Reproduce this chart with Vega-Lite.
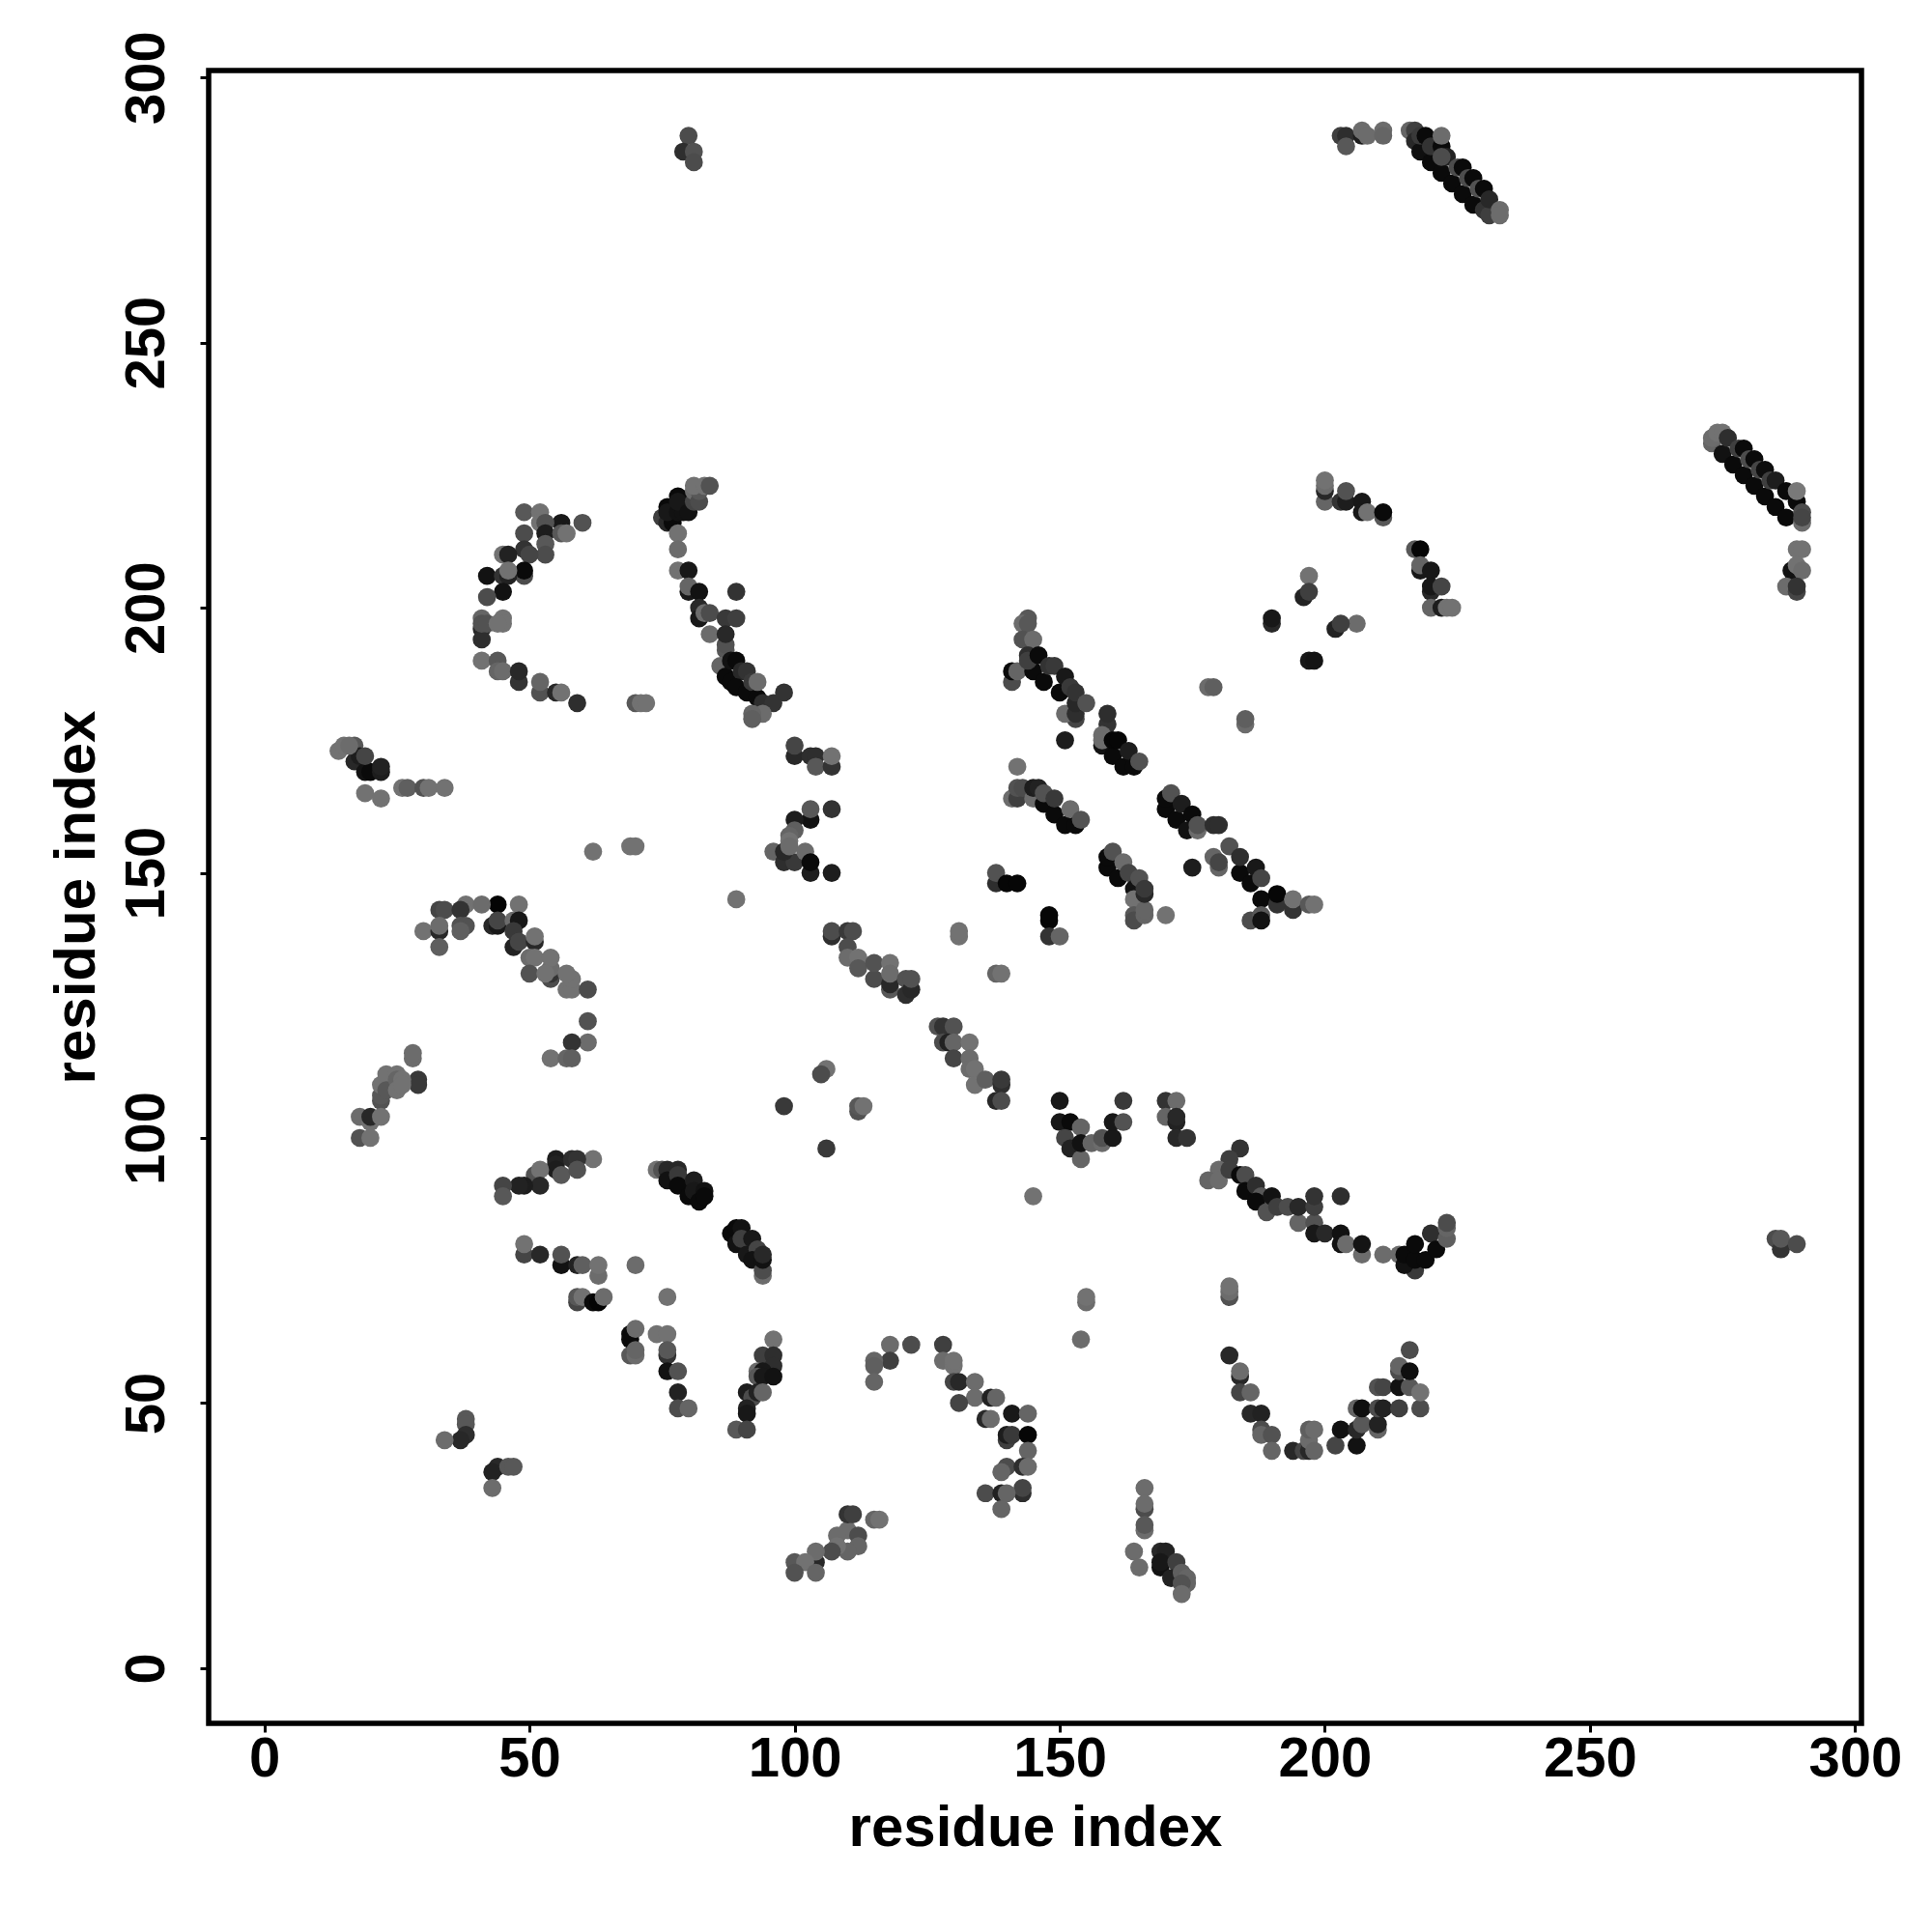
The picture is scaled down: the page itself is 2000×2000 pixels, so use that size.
{"$schema":"https://vega.github.io/schema/vega-lite/v6.json","width":1711,"height":1711,"autosize":{"type":"none"},"padding":{"left":216,"top":73,"right":73,"bottom":216},"background":"white","view":{"stroke":"#000000","strokeWidth":5.5},"config":{"font":"Liberation Sans"},
"data":{"values":[
{"x":49,"y":218,"s":0.3},{"x":52,"y":218,"s":0.1},{"x":52,"y":216,"s":0.1},{"x":60,"y":216,"s":0.35},{"x":56,"y":216,"s":0.85},{"x":53,"y":216,"s":0.35},{"x":53,"y":214,"s":0.8},{"x":56,"y":214,"s":0.3},{"x":57,"y":214,"s":0.1},{"x":49,"y":214,"s":0.4},{"x":53,"y":212,"s":0.3},{"x":53,"y":210,"s":0.4},{"x":49,"y":211,"s":0.6},{"x":50,"y":210,"s":0.45},{"x":45,"y":210,"s":0.1},{"x":46,"y":210,"s":0.75},{"x":42,"y":206,"s":0.9},{"x":49,"y":206,"s":0.4},{"x":49,"y":207,"s":0.95},{"x":45,"y":206,"s":0.6},{"x":46,"y":206,"s":0.75},{"x":46,"y":207,"s":0.1},{"x":45,"y":203,"s":0.9},{"x":42,"y":202,"s":0.4},{"x":41,"y":198,"s":0.2},{"x":45,"y":198,"s":0.1},{"x":41,"y":196,"s":0.7},{"x":41,"y":194,"s":0.65},{"x":41,"y":197,"s":0.35},{"x":42,"y":197,"s":0.35},{"x":45,"y":197,"s":0.1},{"x":44,"y":197,"s":0.1},
{"x":41,"y":190,"s":0.1},{"x":44,"y":190,"s":0.3},{"x":44,"y":188,"s":0.2},{"x":45,"y":188,"s":0.15},{"x":48,"y":186,"s":0.6},{"x":48,"y":188,"s":0.7},{"x":52,"y":184,"s":0.35},{"x":52,"y":186,"s":0.2},{"x":55,"y":184,"s":0.7},{"x":56,"y":184,"s":0.1},{"x":59,"y":182,"s":0.65},{"x":70,"y":182,"s":0.3},{"x":71,"y":182,"s":0.1},{"x":72,"y":182,"s":0.1},
{"x":75,"y":217,"s":0.5},{"x":76,"y":216,"s":0.7},{"x":77,"y":216,"s":0.95},{"x":76,"y":219,"s":0.95},{"x":76,"y":218,"s":0.85},{"x":78,"y":218,"s":0.9},{"x":79,"y":218,"s":0.9},{"x":78,"y":221,"s":0.95},{"x":78,"y":220,"s":0.85},{"x":80,"y":218,"s":0.9},{"x":81,"y":220,"s":0.45},{"x":81,"y":222,"s":0.15},{"x":82,"y":220,"s":0.4},{"x":82,"y":222,"s":0.3},{"x":81,"y":223,"s":0.1},{"x":83,"y":223,"s":0.1},{"x":84,"y":223,"s":0.35},
{"x":78,"y":214,"s":0.1},{"x":78,"y":211,"s":0.15},{"x":78,"y":207,"s":0.1},{"x":80,"y":207,"s":0.85},{"x":80,"y":203,"s":0.85},{"x":80,"y":204,"s":0.2},{"x":82,"y":203,"s":0.9},{"x":89,"y":203,"s":0.6},{"x":82,"y":200,"s":0.7},{"x":82,"y":198,"s":0.85},{"x":83,"y":199,"s":0.15},{"x":84,"y":199,"s":0.4},{"x":87,"y":198,"s":0.55},{"x":89,"y":198,"s":0.5},{"x":84,"y":195,"s":0.15},{"x":87,"y":192,"s":0.3},{"x":87,"y":193,"s":0.35},{"x":87,"y":195,"s":0.7},{"x":86,"y":189,"s":0.2},{"x":87,"y":187,"s":0.95},{"x":88,"y":190,"s":0.9},{"x":89,"y":190,"s":0.95},{"x":88,"y":186,"s":0.95},{"x":90,"y":188,"s":0.7},{"x":89,"y":185,"s":0.95},{"x":91,"y":184,"s":0.95},{"x":91,"y":188,"s":0.6},{"x":92,"y":186,"s":0.55},{"x":93,"y":183,"s":0.95},{"x":93,"y":186,"s":0.15},{"x":94,"y":182,"s":0.65},{"x":96,"y":182,"s":0.6},{"x":98,"y":184,"s":0.6},{"x":94,"y":180,"s":0.15},{"x":92,"y":180,"s":0.2},{"x":92,"y":179,"s":0.25},
{"x":100,"y":172,"s":0.7},{"x":100,"y":174,"s":0.45},{"x":103,"y":172,"s":0.65},{"x":104,"y":172,"s":0.65},{"x":104,"y":170,"s":0.3},{"x":107,"y":170,"s":0.6},{"x":107,"y":172,"s":0.1},{"x":107,"y":162,"s":0.6},{"x":103,"y":160,"s":0.9},{"x":103,"y":162,"s":0.3},{"x":100,"y":160,"s":0.8},{"x":100,"y":158,"s":0.25},{"x":99,"y":157,"s":0.2},{"x":99,"y":156,"s":0.1},{"x":96,"y":154,"s":0.2},{"x":98,"y":152,"s":0.65},{"x":100,"y":152,"s":0.55},{"x":98,"y":154,"s":0.7},{"x":99,"y":155,"s":0.15},{"x":102,"y":154,"s":0.15},{"x":103,"y":150,"s":0.8},{"x":103,"y":152,"s":0.95},{"x":107,"y":150,"s":0.8},{"x":89,"y":145,"s":0.1},
{"x":14,"y":173,"s":0.1},{"x":15,"y":174,"s":0.1},{"x":17,"y":171,"s":0.7},{"x":17,"y":174,"s":0.3},{"x":18,"y":172,"s":0.8},{"x":16,"y":174,"s":0.15},{"x":19,"y":169,"s":0.9},{"x":20,"y":169,"s":0.95},{"x":19,"y":172,"s":0.45},{"x":22,"y":169,"s":0.8},{"x":22,"y":170,"s":0.75},{"x":19,"y":165,"s":0.1},{"x":22,"y":164,"s":0.1},{"x":26,"y":166,"s":0.1},{"x":27,"y":166,"s":0.25},{"x":30,"y":166,"s":0.35},{"x":31,"y":166,"s":0.1},{"x":34,"y":166,"s":0.1},{"x":62,"y":154,"s":0.1},{"x":69,"y":155,"s":0.1},{"x":70,"y":155,"s":0.1},
{"x":44,"y":144,"s":0.98},{"x":38,"y":144,"s":0.1},{"x":41,"y":144,"s":0.15},{"x":48,"y":144,"s":0.1},{"x":33,"y":143,"s":0.45},{"x":34,"y":143,"s":0.4},{"x":37,"y":143,"s":0.6},{"x":30,"y":139,"s":0.1},{"x":33,"y":139,"s":0.7},{"x":33,"y":140,"s":0.15},{"x":33,"y":136,"s":0.25},{"x":37,"y":140,"s":0.35},{"x":38,"y":140,"s":0.35},{"x":37,"y":139,"s":0.25},{"x":43,"y":140,"s":0.7},{"x":44,"y":140,"s":0.85},{"x":44,"y":141,"s":0.45},{"x":47,"y":141,"s":0.15},{"x":48,"y":141,"s":0.85},{"x":47,"y":139,"s":0.55},{"x":47,"y":136,"s":0.75},{"x":48,"y":137,"s":0.45},{"x":51,"y":137,"s":0.7},{"x":51,"y":138,"s":0.1},{"x":50,"y":134,"s":0.15},{"x":51,"y":134,"s":0.1},{"x":50,"y":131,"s":0.35},{"x":54,"y":130,"s":0.4},{"x":54,"y":131,"s":0.6},{"x":54,"y":132,"s":0.15},{"x":54,"y":134,"s":0.1},{"x":53,"y":131,"s":0.1},{"x":57,"y":128,"s":0.1},{"x":58,"y":128,"s":0.1},{"x":58,"y":130,"s":0.1},{"x":57,"y":131,"s":0.1},{"x":61,"y":128,"s":0.4},{"x":61,"y":122,"s":0.35},{"x":61,"y":118,"s":0.15},{"x":58,"y":118,"s":0.6},{"x":54,"y":115,"s":0.1},{"x":57,"y":115,"s":0.2},{"x":58,"y":115,"s":0.25},
{"x":28,"y":115,"s":0.15},{"x":28,"y":116,"s":0.15},{"x":29,"y":111,"s":0.55},{"x":29,"y":110,"s":0.55},{"x":22,"y":107,"s":0.35},{"x":22,"y":108,"s":0.3},{"x":22,"y":110,"s":0.1},{"x":23,"y":112,"s":0.1},{"x":23,"y":109,"s":0.3},{"x":25,"y":112,"s":0.1},{"x":25,"y":111,"s":0.2},{"x":25,"y":109,"s":0.1},{"x":26,"y":111,"s":0.1},{"x":26,"y":110,"s":0.1},{"x":18,"y":104,"s":0.15},{"x":20,"y":103,"s":0.1},{"x":20,"y":104,"s":0.7},{"x":22,"y":104,"s":0.1},{"x":18,"y":100,"s":0.35},{"x":20,"y":100,"s":0.1},
{"x":62,"y":96,"s":0.1},{"x":55,"y":96,"s":0.8},{"x":55,"y":95,"s":0.75},{"x":58,"y":96,"s":0.65},{"x":59,"y":96,"s":0.6},{"x":55,"y":94,"s":0.8},{"x":56,"y":93,"s":0.3},{"x":59,"y":94,"s":0.35},{"x":51,"y":93,"s":0.35},{"x":52,"y":94,"s":0.1},{"x":52,"y":91,"s":0.7},{"x":49,"y":91,"s":0.8},{"x":48,"y":91,"s":0.75},{"x":45,"y":91,"s":0.45},{"x":45,"y":89,"s":0.3},
{"x":74,"y":94,"s":0.1},{"x":75,"y":94,"s":0.35},{"x":76,"y":94,"s":0.7},{"x":78,"y":94,"s":0.7},{"x":76,"y":92,"s":0.9},{"x":78,"y":93,"s":0.55},{"x":78,"y":91,"s":0.95},{"x":81,"y":92,"s":0.8},{"x":80,"y":89,"s":0.95},{"x":81,"y":90,"s":0.85},{"x":83,"y":90,"s":0.9},{"x":82,"y":88,"s":0.95},{"x":83,"y":89,"s":0.95},
{"x":88,"y":82,"s":0.95},{"x":89,"y":83,"s":0.95},{"x":90,"y":83,"s":0.9},{"x":89,"y":80,"s":0.9},{"x":90,"y":81,"s":0.5},{"x":92,"y":81,"s":0.85},{"x":91,"y":78,"s":0.85},{"x":93,"y":79,"s":0.45},{"x":92,"y":77,"s":0.9},{"x":94,"y":74,"s":0.15},{"x":94,"y":75,"s":0.4},{"x":94,"y":77,"s":0.9},{"x":94,"y":78,"s":0.7},
{"x":49,"y":78,"s":0.45},{"x":49,"y":80,"s":0.1},{"x":52,"y":78,"s":0.7},{"x":56,"y":76,"s":0.9},{"x":56,"y":78,"s":0.35},{"x":59,"y":76,"s":0.75},{"x":60,"y":76,"s":0.25},{"x":63,"y":74,"s":0.15},{"x":63,"y":76,"s":0.1},{"x":70,"y":76,"s":0.15},{"x":76,"y":70,"s":0.1},{"x":59,"y":69,"s":0.45},{"x":59,"y":70,"s":0.3},{"x":60,"y":70,"s":0.1},{"x":62,"y":69,"s":0.95},{"x":63,"y":69,"s":0.98},{"x":64,"y":70,"s":0.15},
{"x":69,"y":63,"s":0.95},{"x":69,"y":62,"s":0.95},{"x":70,"y":64,"s":0.15},{"x":69,"y":59,"s":0.3},{"x":70,"y":59,"s":0.15},{"x":70,"y":60,"s":0.2},{"x":74,"y":63,"s":0.1},{"x":76,"y":63,"s":0.1},{"x":76,"y":59,"s":0.6},{"x":76,"y":60,"s":0.3},{"x":76,"y":56,"s":0.9},{"x":78,"y":56,"s":0.35},{"x":78,"y":52,"s":0.75},{"x":78,"y":49,"s":0.4},{"x":80,"y":49,"s":0.2},
{"x":96,"y":62,"s":0.1},{"x":94,"y":59,"s":0.5},{"x":96,"y":59,"s":0.65},{"x":96,"y":57,"s":0.65},{"x":93,"y":56,"s":0.15},{"x":94,"y":56,"s":0.85},{"x":93,"y":55,"s":0.3},{"x":94,"y":55,"s":0.85},{"x":96,"y":55,"s":0.9},{"x":91,"y":52,"s":0.8},{"x":92,"y":51,"s":0.4},{"x":93,"y":52,"s":0.75},{"x":94,"y":52,"s":0.2},{"x":91,"y":49,"s":0.75},{"x":91,"y":48,"s":0.85},{"x":89,"y":45,"s":0.3},{"x":91,"y":45,"s":0.45},
{"x":38,"y":47,"s":0.3},{"x":38,"y":46,"s":0.3},{"x":38,"y":44,"s":0.65},{"x":37,"y":43,"s":0.7},{"x":34,"y":43,"s":0.15},{"x":44,"y":38,"s":0.7},{"x":43,"y":37,"s":0.75},{"x":46,"y":38,"s":0.3},{"x":47,"y":38,"s":0.3},{"x":43,"y":34,"s":0.15},
{"x":106,"y":113,"s":0.1},{"x":105,"y":112,"s":0.4},{"x":98,"y":106,"s":0.55},{"x":112,"y":105,"s":0.35},{"x":112,"y":106,"s":0.3},{"x":113,"y":106,"s":0.1},{"x":106,"y":98,"s":0.55},
{"x":110,"y":26,"s":0.15},{"x":108,"y":25,"s":0.15},{"x":110,"y":29,"s":0.6},{"x":111,"y":29,"s":0.5},{"x":115,"y":28,"s":0.2},{"x":116,"y":28,"s":0.1},{"x":112,"y":25,"s":0.4},{"x":112,"y":23,"s":0.2},{"x":110,"y":22,"s":0.2},{"x":108,"y":23,"s":0.1},{"x":107,"y":22,"s":0.4},{"x":104,"y":20,"s":0.7},{"x":104,"y":22,"s":0.15},{"x":100,"y":20,"s":0.3},{"x":102,"y":20,"s":0.1},{"x":100,"y":18,"s":0.35},{"x":104,"y":18,"s":0.2},
{"x":200,"y":220,"s":0.2},{"x":200,"y":222,"s":0.7},{"x":200,"y":223,"s":0.15},{"x":200,"y":224,"s":0.1},{"x":203,"y":220,"s":0.6},{"x":204,"y":220,"s":0.8},{"x":204,"y":222,"s":0.35},{"x":207,"y":220,"s":0.85},{"x":207,"y":218,"s":0.85},{"x":208,"y":218,"s":0.1},{"x":211,"y":217,"s":0.3},{"x":211,"y":218,"s":0.95},
{"x":217,"y":211,"s":0.3},{"x":218,"y":211,"s":0.97},{"x":218,"y":207,"s":0.85},{"x":218,"y":208,"s":0.2},{"x":220,"y":207,"s":0.85},{"x":220,"y":203,"s":0.7},{"x":220,"y":204,"s":0.85},{"x":222,"y":204,"s":0.45},{"x":220,"y":200,"s":0.2},{"x":222,"y":200,"s":0.8},{"x":223,"y":200,"s":0.1},{"x":224,"y":200,"s":0.1},
{"x":197,"y":206,"s":0.1},{"x":196,"y":202,"s":0.75},{"x":197,"y":203,"s":0.5},{"x":190,"y":197,"s":0.7},{"x":190,"y":198,"s":0.85},{"x":206,"y":197,"s":0.15},{"x":202,"y":196,"s":0.75},{"x":203,"y":197,"s":0.5},{"x":197,"y":190,"s":0.85},{"x":198,"y":190,"s":0.88},{"x":178,"y":185,"s":0.15},{"x":179,"y":185,"s":0.25},{"x":185,"y":178,"s":0.15},{"x":185,"y":179,"s":0.25},
{"x":144,"y":198,"s":0.3},{"x":143,"y":197,"s":0.15},{"x":144,"y":197,"s":0.3},{"x":143,"y":194,"s":0.35},{"x":145,"y":194,"s":0.15},{"x":144,"y":191,"s":0.65},{"x":141,"y":186,"s":0.4},{"x":141,"y":188,"s":0.95},{"x":142,"y":188,"s":0.2},{"x":145,"y":188,"s":0.95},{"x":144,"y":190,"s":0.5},{"x":146,"y":191,"s":0.95},{"x":147,"y":186,"s":0.95},{"x":148,"y":189,"s":0.6},{"x":149,"y":189,"s":0.55},{"x":150,"y":184,"s":0.95},{"x":151,"y":187,"s":0.85},{"x":152,"y":185,"s":0.55},{"x":153,"y":179,"s":0.45},{"x":151,"y":180,"s":0.15},{"x":153,"y":180,"s":0.65},{"x":153,"y":182,"s":0.7},{"x":153,"y":184,"s":0.6},{"x":155,"y":182,"s":0.35},{"x":151,"y":175,"s":0.8},
{"x":159,"y":178,"s":0.6},{"x":159,"y":180,"s":0.65},{"x":158,"y":176,"s":0.15},{"x":158,"y":174,"s":0.9},{"x":158,"y":175,"s":0.15},{"x":160,"y":172,"s":0.95},{"x":160,"y":175,"s":0.97},{"x":161,"y":175,"s":0.97},{"x":162,"y":170,"s":0.95},{"x":163,"y":173,"s":0.8},{"x":164,"y":170,"s":0.95},{"x":165,"y":171,"s":0.35},
{"x":142,"y":170,"s":0.1},{"x":141,"y":164,"s":0.15},{"x":142,"y":164,"s":0.5},{"x":142,"y":166,"s":0.35},{"x":143,"y":166,"s":0.4},{"x":145,"y":164,"s":0.15},{"x":145,"y":166,"s":0.8},{"x":146,"y":166,"s":0.75},{"x":147,"y":163,"s":0.95},{"x":147,"y":165,"s":0.35},{"x":149,"y":161,"s":0.95},{"x":149,"y":164,"s":0.55},{"x":151,"y":159,"s":0.95},{"x":153,"y":159,"s":0.95},{"x":152,"y":162,"s":0.15},{"x":154,"y":160,"s":0.35},
{"x":170,"y":162,"s":0.95},{"x":170,"y":164,"s":0.95},{"x":171,"y":165,"s":0.35},{"x":172,"y":160,"s":0.95},{"x":173,"y":163,"s":0.8},{"x":174,"y":158,"s":0.9},{"x":175,"y":161,"s":0.95},{"x":176,"y":158,"s":0.15},{"x":176,"y":159,"s":0.35},{"x":179,"y":159,"s":0.65},{"x":180,"y":159,"s":0.65},
{"x":159,"y":151,"s":0.95},{"x":159,"y":153,"s":0.95},{"x":160,"y":154,"s":0.35},{"x":161,"y":149,"s":0.95},{"x":162,"y":152,"s":0.15},{"x":163,"y":150,"s":0.45},{"x":164,"y":147,"s":0.9},{"x":165,"y":149,"s":0.35},{"x":164,"y":145,"s":0.1},{"x":164,"y":142,"s":0.3},{"x":164,"y":141,"s":0.4},{"x":166,"y":142,"s":0.2},{"x":166,"y":143,"s":0.2},{"x":166,"y":146,"s":0.7},{"x":166,"y":147,"s":0.55},{"x":170,"y":142,"s":0.1},
{"x":175,"y":151,"s":0.8},{"x":179,"y":153,"s":0.2},{"x":180,"y":151,"s":0.2},{"x":180,"y":152,"s":0.45},{"x":182,"y":155,"s":0.35},{"x":184,"y":150,"s":0.95},{"x":184,"y":153,"s":0.65},{"x":186,"y":148,"s":0.95},{"x":187,"y":151,"s":0.85},{"x":188,"y":149,"s":0.45},{"x":188,"y":145,"s":0.95},{"x":186,"y":141,"s":0.4},{"x":188,"y":142,"s":0.3},{"x":188,"y":141,"s":0.9},{"x":191,"y":144,"s":0.6},{"x":191,"y":146,"s":0.97},{"x":194,"y":143,"s":0.6},{"x":194,"y":145,"s":0.1},{"x":197,"y":144,"s":0.3},{"x":198,"y":144,"s":0.1},
{"x":138,"y":148,"s":0.65},{"x":138,"y":150,"s":0.35},{"x":140,"y":148,"s":0.97},{"x":142,"y":148,"s":0.97},{"x":148,"y":141,"s":0.97},{"x":148,"y":142,"s":0.97},{"x":148,"y":138,"s":0.6},{"x":150,"y":138,"s":0.2},{"x":131,"y":138,"s":0.1},{"x":131,"y":139,"s":0.1},{"x":138,"y":131,"s":0.2},{"x":139,"y":131,"s":0.1},
{"x":107,"y":138,"s":0.65},{"x":107,"y":139,"s":0.4},{"x":110,"y":139,"s":0.55},{"x":111,"y":139,"s":0.4},{"x":110,"y":136,"s":0.4},{"x":110,"y":134,"s":0.15},{"x":112,"y":134,"s":0.1},{"x":112,"y":132,"s":0.3},{"x":115,"y":130,"s":0.4},{"x":115,"y":133,"s":0.35},{"x":118,"y":133,"s":0.1},{"x":118,"y":128,"s":0.3},{"x":118,"y":129,"s":0.7},{"x":118,"y":131,"s":0.15},{"x":121,"y":127,"s":0.65},{"x":121,"y":130,"s":0.35},{"x":122,"y":128,"s":0.7},{"x":122,"y":130,"s":0.35},
{"x":127,"y":121,"s":0.35},{"x":128,"y":121,"s":0.6},{"x":130,"y":121,"s":0.35},{"x":128,"y":118,"s":0.4},{"x":129,"y":118,"s":0.75},{"x":130,"y":118,"s":0.2},{"x":133,"y":118,"s":0.1},{"x":130,"y":115,"s":0.45},{"x":133,"y":115,"s":0.15},{"x":133,"y":113,"s":0.15},{"x":134,"y":113,"s":0.1},{"x":134,"y":110,"s":0.1},{"x":136,"y":111,"s":0.25},{"x":139,"y":110,"s":0.65},{"x":139,"y":111,"s":0.55},{"x":138,"y":107,"s":0.7},{"x":139,"y":107,"s":0.4},
{"x":150,"y":107,"s":0.85},{"x":150,"y":103,"s":0.85},{"x":152,"y":103,"s":0.95},{"x":151,"y":100,"s":0.45},{"x":152,"y":98,"s":0.75},{"x":154,"y":102,"s":0.2},{"x":154,"y":96,"s":0.2},{"x":154,"y":99,"s":0.9},{"x":156,"y":99,"s":0.2},{"x":158,"y":99,"s":0.15},{"x":158,"y":100,"s":0.35},{"x":160,"y":100,"s":0.85},{"x":160,"y":103,"s":0.85},{"x":162,"y":103,"s":0.35},{"x":162,"y":107,"s":0.55},{"x":170,"y":107,"s":0.6},{"x":172,"y":107,"s":0.15},{"x":170,"y":104,"s":0.2},{"x":172,"y":103,"s":0.75},{"x":172,"y":104,"s":0.7},{"x":172,"y":100,"s":0.7},{"x":174,"y":100,"s":0.6},{"x":145,"y":89,"s":0.1},
{"x":184,"y":98,"s":0.6},{"x":182,"y":96,"s":0.5},{"x":180,"y":94,"s":0.15},{"x":178,"y":92,"s":0.2},{"x":180,"y":92,"s":0.15},{"x":182,"y":94,"s":0.5},{"x":184,"y":93,"s":0.95},{"x":185,"y":93,"s":0.4},{"x":185,"y":90,"s":0.95},{"x":187,"y":91,"s":0.65},{"x":188,"y":89,"s":0.3},{"x":187,"y":88,"s":0.95},{"x":189,"y":86,"s":0.35},{"x":190,"y":89,"s":0.9},{"x":191,"y":87,"s":0.5},{"x":193,"y":87,"s":0.4},{"x":195,"y":84,"s":0.2},{"x":195,"y":87,"s":0.7},{"x":198,"y":84,"s":0.35},{"x":198,"y":87,"s":0.5},{"x":198,"y":89,"s":0.6},{"x":203,"y":89,"s":0.65},{"x":198,"y":82,"s":0.85},{"x":200,"y":82,"s":0.7},{"x":203,"y":80,"s":0.9},{"x":203,"y":82,"s":0.9},{"x":204,"y":80,"s":0.15},{"x":207,"y":78,"s":0.15},{"x":207,"y":80,"s":0.88},{"x":211,"y":78,"s":0.15},{"x":214,"y":78,"s":0.15},{"x":217,"y":75,"s":0.55},{"x":215,"y":76,"s":0.9},{"x":215,"y":78,"s":0.95},{"x":217,"y":77,"s":0.95},{"x":219,"y":77,"s":0.95},{"x":217,"y":80,"s":0.95},{"x":220,"y":82,"s":0.65},{"x":221,"y":79,"s":0.95},{"x":223,"y":81,"s":0.25},{"x":223,"y":83,"s":0.2},{"x":223,"y":84,"s":0.4},
{"x":155,"y":69,"s":0.15},{"x":155,"y":70,"s":0.1},{"x":154,"y":62,"s":0.15},{"x":182,"y":70,"s":0.35},{"x":182,"y":71,"s":0.15},{"x":182,"y":72,"s":0.1},
{"x":128,"y":61,"s":0.5},{"x":128,"y":58,"s":0.15},{"x":130,"y":57,"s":0.1},{"x":130,"y":58,"s":0.1},{"x":130,"y":54,"s":0.45},{"x":131,"y":54,"s":0.7},{"x":134,"y":54,"s":0.15},{"x":134,"y":51,"s":0.15},{"x":131,"y":50,"s":0.45},{"x":137,"y":51,"s":0.75},{"x":138,"y":51,"s":0.2},{"x":136,"y":47,"s":0.7},{"x":137,"y":47,"s":0.15},{"x":141,"y":48,"s":0.85},{"x":144,"y":48,"s":0.2},{"x":140,"y":43,"s":0.5},{"x":140,"y":44,"s":0.8},{"x":141,"y":44,"s":0.55},{"x":144,"y":44,"s":0.97},{"x":144,"y":41,"s":0.2},{"x":140,"y":38,"s":0.4},{"x":143,"y":38,"s":0.65},{"x":144,"y":38,"s":0.15},{"x":139,"y":37,"s":0.2},{"x":143,"y":33,"s":0.65},{"x":143,"y":34,"s":0.45},{"x":136,"y":33,"s":0.4},{"x":139,"y":33,"s":0.75},{"x":140,"y":33,"s":0.2},{"x":139,"y":30,"s":0.2},
{"x":118,"y":61,"s":0.15},{"x":122,"y":61,"s":0.4},{"x":118,"y":58,"s":0.5},{"x":115,"y":58,"s":0.2},{"x":115,"y":57,"s":0.25},{"x":115,"y":54,"s":0.2},
{"x":182,"y":59,"s":0.7},{"x":184,"y":55,"s":0.7},{"x":184,"y":56,"s":0.15},{"x":184,"y":52,"s":0.45},{"x":186,"y":52,"s":0.2},{"x":186,"y":48,"s":0.7},{"x":188,"y":48,"s":0.75},{"x":188,"y":45,"s":0.4},{"x":188,"y":44,"s":0.2},{"x":190,"y":44,"s":0.35},{"x":190,"y":41,"s":0.2},{"x":194,"y":41,"s":0.7},{"x":196,"y":41,"s":0.45},{"x":197,"y":41,"s":0.7},{"x":197,"y":43,"s":0.15},{"x":197,"y":45,"s":0.25},{"x":198,"y":45,"s":0.15},{"x":198,"y":41,"s":0.2},{"x":202,"y":42,"s":0.45},{"x":203,"y":45,"s":0.9},{"x":206,"y":42,"s":0.9},{"x":206,"y":45,"s":0.7},{"x":207,"y":46,"s":0.3},{"x":210,"y":45,"s":0.2},{"x":210,"y":46,"s":0.75},{"x":206,"y":49,"s":0.2},{"x":207,"y":49,"s":0.92},{"x":210,"y":49,"s":0.4},{"x":211,"y":49,"s":0.75},{"x":210,"y":53,"s":0.35},{"x":211,"y":53,"s":0.45},{"x":214,"y":49,"s":0.5},{"x":218,"y":49,"s":0.4},{"x":214,"y":53,"s":0.9},{"x":216,"y":53,"s":0.3},{"x":218,"y":52,"s":0.1},{"x":214,"y":56,"s":0.4},{"x":214,"y":57,"s":0.2},{"x":216,"y":56,"s":0.92},{"x":216,"y":60,"s":0.4},
{"x":166,"y":34,"s":0.15},{"x":166,"y":30,"s":0.4},{"x":166,"y":31,"s":0.15},{"x":166,"y":26,"s":0.15},{"x":166,"y":27,"s":0.3},{"x":164,"y":22,"s":0.15},{"x":165,"y":19,"s":0.15},{"x":169,"y":22,"s":0.7},{"x":170,"y":22,"s":0.75},{"x":169,"y":19,"s":0.9},{"x":169,"y":20,"s":0.85},{"x":172,"y":20,"s":0.5},{"x":171,"y":17,"s":0.75},{"x":173,"y":18,"s":0.25},{"x":174,"y":17,"s":0.2},{"x":174,"y":16,"s":0.2},{"x":173,"y":16,"s":0.35},{"x":173,"y":14,"s":0.15},
{"x":80,"y":289,"s":0.4},{"x":79,"y":286,"s":0.65},{"x":81,"y":286,"s":0.35},{"x":81,"y":284,"s":0.4},
{"x":203,"y":289,"s":0.5},{"x":204,"y":289,"s":0.65},{"x":204,"y":287,"s":0.3},{"x":207,"y":289,"s":0.8},{"x":207,"y":290,"s":0.15},{"x":208,"y":289,"s":0.15},{"x":211,"y":290,"s":0.15},{"x":211,"y":289,"s":0.2},{"x":216,"y":290,"s":0.2},{"x":217,"y":290,"s":0.5},{"x":217,"y":288,"s":0.7},{"x":218,"y":286,"s":0.92},{"x":218,"y":289,"s":0.55},{"x":219,"y":289,"s":0.95},{"x":220,"y":284,"s":0.95},{"x":222,"y":282,"s":0.95},{"x":220,"y":287,"s":0.6},{"x":222,"y":287,"s":0.95},{"x":222,"y":289,"s":0.15},{"x":224,"y":280,"s":0.95},{"x":223,"y":285,"s":0.75},{"x":222,"y":285,"s":0.4},{"x":226,"y":278,"s":0.95},{"x":225,"y":283,"s":0.4},{"x":226,"y":283,"s":0.95},{"x":227,"y":281,"s":0.4},{"x":228,"y":281,"s":0.95},{"x":228,"y":276,"s":0.95},{"x":229,"y":279,"s":0.35},{"x":230,"y":279,"s":0.95},{"x":230,"y":275,"s":0.6},{"x":231,"y":274,"s":0.5},{"x":231,"y":277,"s":0.7},{"x":233,"y":275,"s":0.15},{"x":233,"y":274,"s":0.15},
{"x":273,"y":231,"s":0.2},{"x":273,"y":232,"s":0.15},{"x":274,"y":233,"s":0.1},{"x":275,"y":233,"s":0.1},{"x":275,"y":229,"s":0.9},{"x":276,"y":232,"s":0.65},{"x":277,"y":227,"s":0.95},{"x":279,"y":225,"s":0.95},{"x":278,"y":230,"s":0.5},{"x":279,"y":230,"s":0.95},{"x":281,"y":223,"s":0.95},{"x":280,"y":228,"s":0.4},{"x":281,"y":228,"s":0.95},{"x":283,"y":221,"s":0.95},{"x":282,"y":226,"s":0.45},{"x":283,"y":226,"s":0.93},{"x":285,"y":219,"s":0.95},{"x":284,"y":224,"s":0.5},{"x":285,"y":224,"s":0.8},{"x":287,"y":217,"s":0.95},{"x":287,"y":222,"s":0.95},{"x":289,"y":220,"s":0.95},{"x":290,"y":216,"s":0.15},{"x":290,"y":218,"s":0.4},{"x":290,"y":217,"s":0.45},{"x":289,"y":222,"s":0.05},
{"x":289,"y":211,"s":0.1},{"x":290,"y":211,"s":0.1},{"x":288,"y":207,"s":0.9},{"x":289,"y":208,"s":0.1},{"x":290,"y":207,"s":0.15},{"x":287,"y":204,"s":0.15},{"x":289,"y":203,"s":0.45},{"x":289,"y":204,"s":0.6},
{"x":285,"y":81,"s":0.4},{"x":286,"y":79,"s":0.6},{"x":286,"y":81,"s":0.3},{"x":289,"y":80,"s":0.4}
]},
"mark":{"type":"point","filled":true,"size":350,"opacity":1,"strokeWidth":0},
"encoding":{
"x":{"field":"x","type":"quantitative","scale":{"domain":[-10.5,301.2],"nice":false,"zero":false},"axis":{"values":[0,50,100,150,200,250,300],"grid":false,"domain":false,"tickColor":"#000000","tickWidth":3,"tickSize":9,"labelFont":"Liberation Sans","labelFontWeight":"bold","labelFontSize":58,"labelColor":"#000000","labelBaseline":"alphabetic","labelPadding":45,"labelFlush":false,"labelOverlap":false,"labelBound":false,"title":"residue index","titleFont":"Liberation Sans","titleFontWeight":"bold","titleFontSize":60,"titleColor":"#000000","titleBaseline":"alphabetic","titleY":126,"titleX":855.5}},
"y":{"field":"y","type":"quantitative","scale":{"domain":[-10.4,301.3],"nice":false,"zero":false},"axis":{"values":[0,50,100,150,200,250,300],"grid":false,"domain":false,"tickColor":"#000000","tickWidth":3,"tickSize":9,"labelFont":"Liberation Sans","labelFontWeight":"bold","labelFontSize":58,"labelColor":"#000000","labelAngle":270,"labelAlign":"center","labelBaseline":"alphabetic","labelPadding":38,"labelFlush":false,"labelOverlap":false,"labelBound":false,"title":"residue index","titleFont":"Liberation Sans","titleFontWeight":"bold","titleFontSize":60,"titleColor":"#000000","titleBaseline":"alphabetic","titleAngle":270,"titleX":-119,"titleY":855.5}},
"color":{"field":"s","type":"quantitative","scale":{"domain":[0,1],"range":["#808080","#000000"]},"legend":null}
}}
